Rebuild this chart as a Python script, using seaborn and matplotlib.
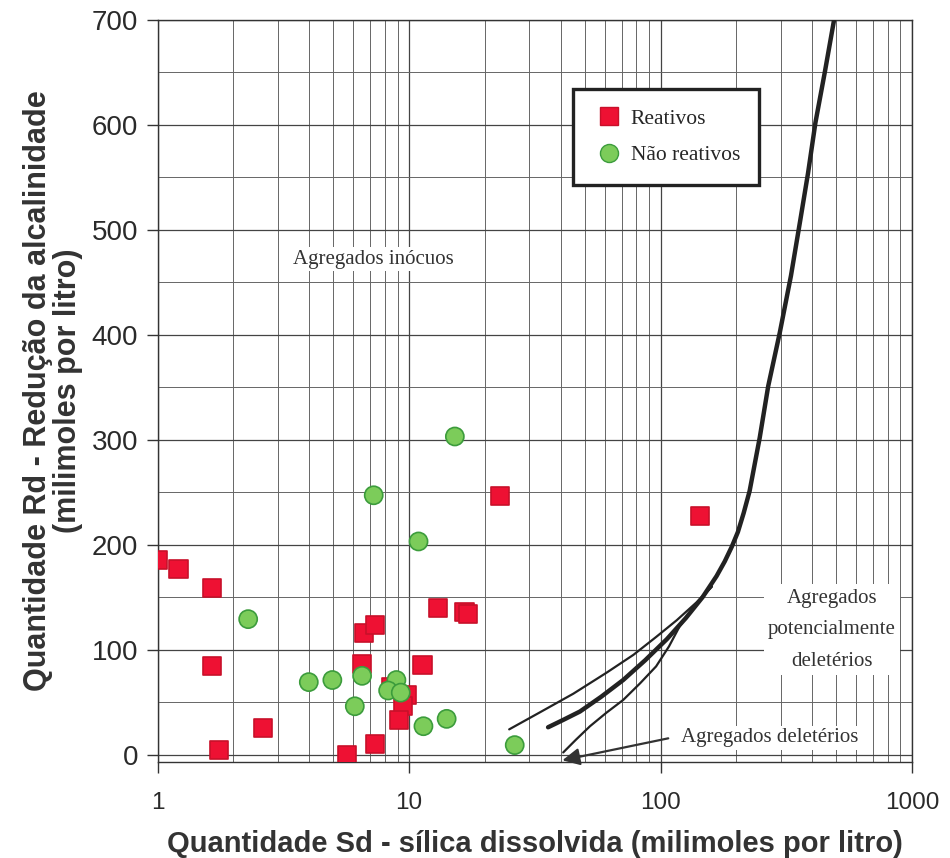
import matplotlib
matplotlib.use("Agg")
import matplotlib.pyplot as plt
import seaborn as sns
import pandas as pd
import numpy as np
from matplotlib.ticker import LogLocator, MultipleLocator, FixedLocator, NullFormatter

# ---- data ----
reativos_x = [1.0, 1.21, 1.65, 1.65, 1.76, 2.63, 5.66, 6.5, 6.6, 7.3, 7.3, 8.5, 9.76, 9.45, 9.1,
              11.3, 13.0, 16.6, 17.2, 22.9, 143]
reativos_y = [185, 177, 159, 84, 4, 25, 0, 86, 116, 123, 10, 64, 57, 46, 33,
              85, 140, 136, 134, 246, 227]
nao_x = [10.9, 15.2, 7.23, 2.29, 3.99, 4.95, 6.5, 6.08, 8.9, 8.25, 9.26, 11.4, 14.1, 26.3]
nao_y = [203, 303, 247, 129, 69, 71, 75, 46, 71, 61, 59, 27, 34, 9]

curva_grossa_x = [35.7, 41, 47.8, 58, 71, 87, 106, 126, 147, 167, 180, 192, 203, 214, 226, 248,
                  268, 298, 330, 360, 386, 413, 450, 490]
curva_grossa_y = [26, 33, 41, 55, 71, 90, 110, 130, 150, 170, 184, 198, 212, 230, 251, 302,
                  351, 402, 456, 510, 554, 602, 650, 700]
curva_sup_x = [25, 33, 45, 61, 78, 96, 116, 139, 160]
curva_sup_y = [24, 40, 58, 78, 95, 112, 128, 145, 160]
curva_inf_x = [41, 46, 52.4, 61, 71, 83, 96, 108, 119, 139, 160]
curva_inf_y = [2, 14, 27, 40, 52, 68, 84, 103, 122, 144, 160]

x_ticks = [1, 10, 100, 1000]
x_ticklabels = ["1", "10", "100", "1000"]
y_ticks = [0, 100, 200, 300, 400, 500, 600, 700]

label_reat = "Reativos"
label_nao = "Não reativos"

df = pd.DataFrame({
    "Sd": reativos_x + nao_x,
    "Rd": reativos_y + nao_y,
    "tipo": [label_reat] * len(reativos_x) + [label_nao] * len(nao_x),
})

sns.set_theme(style="white")
plt.rcParams["font.family"] = ["Liberation Sans", "DejaVu Sans"]

fig = plt.figure(figsize=(9.5, 8.58), dpi=100)
ax = fig.add_axes([0.166, 0.112, 0.794, 0.865])
ax.set_xscale("log")
ax.set_xlim(1, 1000)
ax.set_ylim(-7, 700)

# grid
ax.xaxis.set_major_locator(FixedLocator(x_ticks))
ax.xaxis.set_minor_locator(LogLocator(base=10, subs=np.arange(2, 10)))
ax.xaxis.set_minor_formatter(NullFormatter())
ax.yaxis.set_major_locator(FixedLocator(y_ticks))
ax.yaxis.set_minor_locator(MultipleLocator(50))
ax.grid(True, which="major", axis="both", color="#444444", lw=0.9)
ax.grid(True, which="minor", axis="both", color="#666666", lw=0.7)
ax.set_axisbelow(True)

# curves
ax.plot(curva_grossa_x, curva_grossa_y, color="#222222", lw=3.2, solid_capstyle="round",
        solid_joinstyle="round", zorder=3)
ax.plot(curva_sup_x, curva_sup_y, color="#222222", lw=1.6, solid_joinstyle="round", zorder=3)
ax.plot(curva_inf_x, curva_inf_y, color="#222222", lw=1.6, solid_joinstyle="round", zorder=3)

# points
sns.scatterplot(data=df, x="Sd", y="Rd", hue="tipo", style="tipo",
                markers={label_reat: "s", label_nao: "o"},
                palette={label_reat: "#ee1133", label_nao: "#7ccc5a"},
                s=170, linewidth=1.2,
                edgecolor=None, ax=ax, zorder=4, legend=False)
coll = ax.collections[-1]
ecs = ["#c8102a" if t == label_reat else "#3c9c3c" for t in df["tipo"]]
coll.set_edgecolors(ecs)

# legend
h1 = plt.Line2D([], [], marker="s", ls="", markersize=13, markerfacecolor="#ee1133",
                markeredgecolor="#c8102a", label=label_reat)
h2 = plt.Line2D([], [], marker="o", ls="", markersize=13, markerfacecolor="#7ccc5a",
                markeredgecolor="#3c9c3c", label=label_nao)
leg = ax.legend(handles=[h1, h2], loc="upper left", bbox_to_anchor=(0.55, 0.906),
                prop={"family": "Liberation Serif", "size": 15.5}, frameon=True,
                fancybox=False, borderpad=0.9, handletextpad=0.2, labelspacing=0.75,
                borderaxespad=0, handlelength=1.6)
leg.get_frame().set_edgecolor("#222222")
leg.get_frame().set_linewidth(2.4)
leg.get_frame().set_facecolor("white")
leg.get_frame().set_alpha(1)
leg.set_zorder(6)

# texts
serif = {"family": "Liberation Serif", "size": 15, "color": "#333333"}
ax.text(7.2, 472, "Agregados inócuos", ha="center", va="center", fontdict=serif, zorder=5,
        bbox=dict(facecolor="white", edgecolor="none", pad=2))
ax.text(481, 119, "Agregados\npotencialmente\ndeletérios", ha="center", va="center",
        fontdict=serif, linespacing=1.9, zorder=5,
        bbox=dict(facecolor="white", edgecolor="none", pad=3))
ax.text(272, 16, "Agregados deletérios", ha="center", va="center", fontdict=serif, zorder=5,
        bbox=dict(facecolor="white", edgecolor="none", pad=2))
ax.annotate("", xy=(39.7, -6), xytext=(110, 16),
            arrowprops=dict(arrowstyle="-|>", lw=1.6, color="#333333", mutation_scale=26),
            zorder=5, annotation_clip=False)

# axes style
for s in ax.spines.values():
    s.set_color("#333333")
    s.set_linewidth(1.0)
ax.set_xticklabels(x_ticklabels)
ax.tick_params(axis="both", which="major", length=8, width=1,
               color="#333333", labelcolor="#2a2a2a", direction="out", left=True, bottom=True)
ax.tick_params(axis="x", which="major", labelsize=17.5, pad=14)
ax.tick_params(axis="y", which="major", labelsize=20, pad=6)
ax.tick_params(axis="both", which="minor", length=0)

ax.set_xlabel("Quantidade Sd - sílica dissolvida (milimoles por litro)", fontsize=21,
              fontweight="bold", color="#333333", labelpad=11)
ax.set_ylabel("Quantidade Rd - Redução da alcalinidade\n(milimoles por litro)", fontsize=22,
              fontweight="bold", color="#333333", labelpad=6, linespacing=1.0)

fig.savefig("out.png", dpi=100, facecolor="white")
